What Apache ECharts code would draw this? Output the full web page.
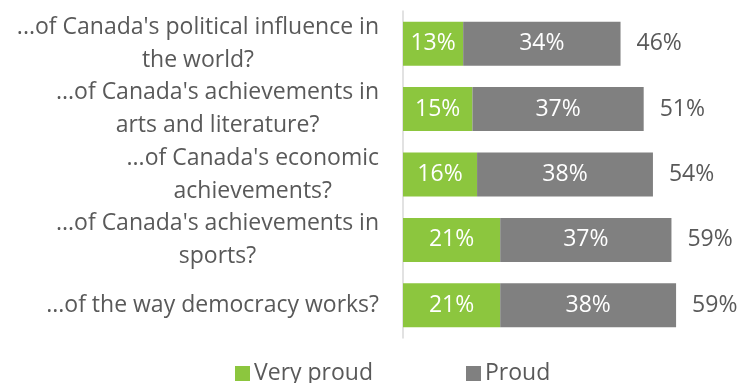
<!DOCTYPE html>
<html><head><meta charset="utf-8">
<script src="https://cdn.jsdelivr.net/npm/echarts@6/dist/echarts.min.js"></script>
<style>html,body{margin:0;padding:0;background:#fff}#c{width:749px;height:383px}</style>
</head><body><div id="c"></div>
<script>
var categories = [
  "...of Canada's political influence in\nthe world?",
  "...of Canada's achievements in\narts and literature?",
  "...of Canada's economic\nachievements?",
  "...of Canada's achievements in\nsports?",
  "...of the way democracy works?"
];
var veryProud = [13, 15, 16, 21, 21];
var proud = [34, 37, 38, 37, 38];
var totals = [46, 51, 54, 59, 59];
var seriesNames = ["Very proud", "Proud"];

var FONT = '"Open Sans", sans-serif';
var FS = 23;
var chart = echarts.init(document.getElementById('c'), null, {renderer: 'canvas'});
chart.setOption({
  animation: false,
  textStyle: {fontFamily: FONT},
  grid: {left: 403, top: 11, bottom: 45, right: 22, containLabel: false},
  legend: {
    data: seriesNames, top: 362, left: 235, itemWidth: 15, itemHeight: 15, itemGap: 93, padding: 0,
    icon: 'rect', textStyle: {fontSize: FS, color: '#595959', fontFamily: FONT, padding: [0,0,0,-1]}
  },
  xAxis: {type: 'value', min: 0, max: 70, show: false},
  yAxis: {
    type: 'category', data: categories, inverse: true,
    axisLine: {lineStyle: {color: '#d9d9d9', width: 1.5}},
    axisTick: {length: 8, lineStyle: {color: '#d9d9d9', width: 1.5}},
    axisLabel: {
      margin: 24,
      formatter: function (v) { return v.split('\n').map(function (l) { return '{c|' + l + '}'; }).join('\n'); },
      rich: {c: {align: 'center', fontSize: FS, color: '#595959', fontFamily: FONT, lineHeight: 33}}
    }
  },
  series: [
    {name: seriesNames[0], type: 'bar', stack: 's', data: veryProud, barWidth: 44,
     itemStyle: {color: '#8cc63e'},
     label: {show: true, position: 'inside', color: '#fff', fontSize: FS, fontFamily: FONT, formatter: '{c}%'}},
    {name: seriesNames[1], type: 'bar', stack: 's', data: proud, barWidth: 44,
     itemStyle: {color: '#808080'},
     label: {show: true, position: 'inside', color: '#fff', fontSize: FS, fontFamily: FONT, formatter: '{c}%'}},
    {name: 'Total', type: 'bar', stack: 's', data: totals.map(function () { return 0; }), barWidth: 44,
     itemStyle: {color: 'transparent'},
     label: {show: true, position: 'right', distance: 16, color: '#595959', fontSize: FS, fontFamily: FONT,
       formatter: function (p) { return totals[p.dataIndex] + '%'; }}}
  ]
});
</script></body></html>
